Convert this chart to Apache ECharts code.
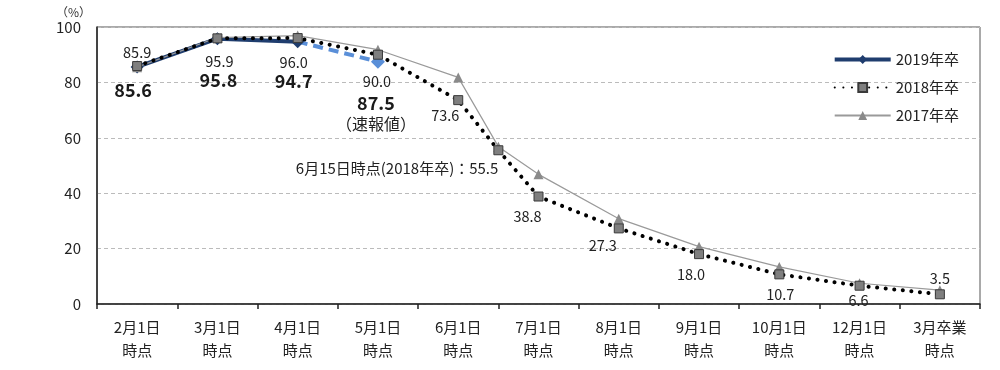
<!DOCTYPE html>
<html>
<head>
<meta charset="utf-8">
<script src="https://cdn.jsdelivr.net/npm/echarts@6/dist/echarts.min.js"></script>
<style>
html,body{margin:0;padding:0;background:#fff;}
#chart{width:1000px;height:370px;}
</style>
</head>
<body>
<div id="chart"></div>
<script>
// ---- data ----
const categories = ['2月1日\n時点','3月1日\n時点','4月1日\n時点','5月1日\n時点','6月1日\n時点','7月1日\n時点','8月1日\n時点','9月1日\n時点','10月1日\n時点','12月1日\n時点','3月卒業\n時点'];
const seriesNames = ['2019年卒','2018年卒','2017年卒'];
const values2019 = [85.6, 95.8, 94.7];          // 2月1日〜4月1日
const values2019Prelim = [87.5];                // 5月1日（速報値）
const prelimLabel = '（速報値）';
// positions along the category axis (4.5 = 6月15日時点)
const pos2018 = [0, 1, 2, 3, 4, 4.5, 5, 6, 7, 8, 9, 10];
const values2018 = [85.9, 95.9, 96.0, 90.0, 73.6, 55.5, 38.8, 27.3, 18.0, 10.7, 6.6, 3.5];
const pos2017 = [0, 1, 2, 3, 4, 4.5, 5, 6, 7, 8, 9, 10];
const values2017 = [85.5, 96.2, 96.9, 91.8, 81.8, 56.8, 46.8, 30.8, 20.7, 13.4, 7.5, 5.0];
const midJuneText = '6月15日時点(2018年卒)：';
const yTicks = [0, 20, 40, 60, 80, 100];

// ---- styling (label offsets relative to the marker) ----
const FONT = '"Noto Sans CJK JP", "Liberation Sans", sans-serif';
const off2018 = [[0,-14],[2,23],[-4,24],[-1,27],[-13,15],[0,18],[-11,20],[-16,17],[-8,20],[1,20],[-1,15],[0,-16]];
const off2019 = [[-4,23],[1,42],[-4,39]];
const C2019 = '#1F3D6E', C2019P = '#5A8FD8';

const data2019 = categories.map((c, i) => i < values2019.length ? {
  value: values2019[i],
  label: {show: true, position: 'inside', offset: off2019[i], formatter: v => v.value.toFixed(1),
          fontSize: 18, fontWeight: 'bold', color: '#1a1a1a', fontFamily: FONT}
} : '-');

const lastIdx = values2019.length - 1;
const dataPrelim = categories.map((c, i) => {
  if (i === lastIdx) return {value: values2019[lastIdx], symbol: 'none'};
  if (i === lastIdx + 1) return {
    value: values2019Prelim[0],
    label: {show: true, position: 'inside', offset: [-2, 52],
      formatter: '{b|' + values2019Prelim[0].toFixed(1) + '}\n{n|' + prelimLabel + '}',
      rich: {
        b: {fontSize: 18, fontWeight: 'bold', color: '#1a1a1a', fontFamily: FONT, lineHeight: 20, align: 'center'},
        n: {fontSize: 16, color: '#222', fontFamily: FONT, lineHeight: 20, align: 'center'}
      }}
  };
  return '-';
});

const data2018 = pos2018.map((p, i) => {
  const isMid = p % 1 !== 0;
  return {
    value: [p, values2018[i]],
    label: {show: true, position: 'inside', offset: off2018[i],
      align: isMid ? 'right' : 'center',
      formatter: isMid ? (midJuneText + values2018[i].toFixed(1)) : values2018[i].toFixed(1),
      fontSize: isMid ? 15 : 14.5, color: '#222', fontFamily: FONT}
  };
});
const data2017 = pos2017.map((p, i) => [p, values2017[i]]);

const chart = echarts.init(document.getElementById('chart'), null, {renderer: 'canvas'});
chart.setOption({
  animation: false,
  backgroundColor: '#fff',
  grid: {left: 97, right: 20, top: 27, bottom: 66, show: true, borderColor: '#555', borderWidth: 1},
  graphic: [{type: 'text', left: 56, top: 6, style: {text: '（%）', fontSize: 12, fill: '#333', fontFamily: FONT}}],
  legend: {
    orient: 'vertical', right: 36, top: 47, itemWidth: 56, itemHeight: 11, itemGap: 13,
    data: [
      {name: seriesNames[0], lineStyle: {width: 4, color: C2019}},
      {name: seriesNames[1]},
      {name: seriesNames[2]}
    ],
    textStyle: {fontSize: 15, color: '#222', fontFamily: FONT}
  },
  xAxis: [{
    type: 'category', data: categories, boundaryGap: true,
    axisLine: {lineStyle: {color: '#222', width: 1.5}},
    axisTick: {show: true, alignWithLabel: false, length: 5, lineStyle: {color: '#222', width: 1.5}},
    axisLabel: {interval: 0, margin: 12, fontSize: 15, lineHeight: 23, color: '#222', fontFamily: FONT}
  }, {
    type: 'value', min: -0.5, max: 10.5, show: false
  }],
  yAxis: {
    type: 'value', min: yTicks[0], max: yTicks[yTicks.length - 1], interval: 20,
    axisLine: {show: true, onZero: false, lineStyle: {color: '#222', width: 1.5}},
    axisTick: {show: false},
    axisLabel: {margin: 16, fontSize: 15, color: '#222', fontFamily: FONT},
    splitLine: {show: true, lineStyle: {color: '#bbb', type: [4, 3]}}
  },
  series: [
    {
      name: seriesNames[0], type: 'line', xAxisIndex: 0, z: 2, data: data2019,
      symbol: 'diamond', symbolSize: 13,
      itemStyle: {color: C2019},
      lineStyle: {color: C2019, width: 4}
    },
    {
      name: '2019年卒速報', type: 'line', xAxisIndex: 0, z: 2, data: dataPrelim,
      symbol: 'diamond', symbolSize: 14,
      itemStyle: {color: C2019P},
      lineStyle: {color: C2019P, width: 4, type: [10, 6]}
    },
    {
      name: seriesNames[2], type: 'line', xAxisIndex: 1, z: 3, data: data2017,
      symbol: 'triangle', symbolSize: 10,
      itemStyle: {color: '#8a8a8a'},
      lineStyle: {color: '#9a9a9a', width: 1.2}
    },
    {
      name: seriesNames[1], type: 'line', xAxisIndex: 1, z: 4, data: data2018,
      symbol: 'rect', symbolSize: 9,
      itemStyle: {color: '#7f7f7f', borderColor: '#3a3a3a', borderWidth: 1},
      lineStyle: {color: '#000', width: 4, type: [0.1, 8.5], cap: 'round'}
    }
  ]
});
</script>
</body>
</html>
